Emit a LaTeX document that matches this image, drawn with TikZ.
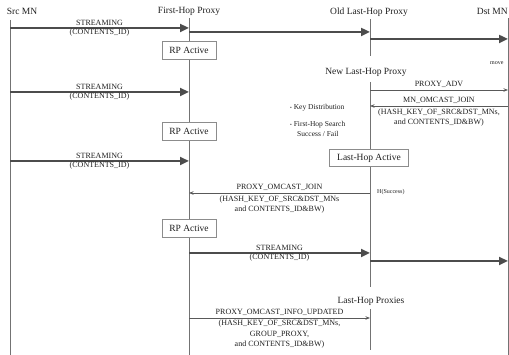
\documentclass[tikz,border=0pt]{standalone}
\usepackage{fontspec}
\setmainfont{Liberation Serif}
\usetikzlibrary{arrows.meta}
\begin{document}
\begin{tikzpicture}[x=1pt,y=-1pt,
  life/.style={draw=black!55, line width=0.9pt},
  stream/.style={draw=black!70, line width=2.6pt, -{Triangle[length=9pt,width=8pt]}},
  msg/.style={draw=black!65, line width=0.8pt, -{Stealth[length=4.5pt,width=3.5pt]}},
  title/.style={font=\fontsize{9.5}{11}\selectfont, text=black!88, inner sep=0pt},
  lbl/.style={font=\fontsize{8}{10}\selectfont, text=black!88, inner sep=0pt, align=center},
  small/.style={font=\fontsize{6}{7}\selectfont, text=black!88, inner sep=0pt, anchor=west},
  bullet/.style={font=\fontsize{7.5}{9}\selectfont, text=black!88, inner sep=0pt, anchor=west, align=left},
  state/.style={draw=black!45, fill=white, line width=0.7pt, font=\fontsize{9.5}{11}\selectfont,
                text=black!88, inner sep=0pt, minimum height=18pt}
]
\useasboundingbox (0,0) rectangle (509,355);

% lifeline headers
\node[title] (tsrc) at (22,11) {Src MN};
\node[title] (tfh)  at (189,11) {First-Hop Proxy};
\node[title] (told) at (369,12) {Old Last-Hop Proxy};
\node[title, anchor=east] (tdst) at (508,11) {Dst MN};
\node[title] (tnew) at (366,72) {New Last-Hop Proxy};
\node[title] (tlhp) at (371,301) {Last-Hop Proxies};

% lifelines
\coordinate (srcT) at (10,20);   \coordinate (srcB) at (10,355);
\coordinate (fhT)  at (189,18);  \coordinate (fhB)  at (189,355);
\coordinate (oldT) at (370,19);  \coordinate (oldB) at (370,56);
\coordinate (newT) at (370,82);  \coordinate (newB) at (370,287);
\coordinate (lhpT) at (370,309); \coordinate (lhpB) at (370,350);
\coordinate (dstT) at (508,18);  \coordinate (dstB) at (508,355);
\draw[life] (srcT) -- (srcB);
\draw[life] (fhT) -- (fhB);
\draw[life] (oldT) -- (oldB);
\draw[life] (newT) -- (newB);
\draw[life] (lhpT) -- (lhpB);
\draw[life] (dstT) -- (dstB);

% first stream before the move
\coordinate (a1) at (10,28);  \coordinate (a2) at (189,28);
\coordinate (a3) at (189,32); \coordinate (a4) at (370,32);
\coordinate (a5) at (370,39); \coordinate (a6) at (508,39);
\draw[stream] (a1) -- (a2)
  node[lbl, midway, yshift=5pt] (a1t) {STREAMING}
  node[lbl, midway, yshift=-5pt] (a1b) {(CONTENTS\_ID)};
\draw[stream] (a3) -- (a4);
\draw[stream] (a5) -- (a6);

\node[state, minimum width=54pt] (rp1) at (189,50) {RP Active};
\node[small] (mv) at (490,63) {move};

% stream while the destination moves
\coordinate (b1) at (10,92); \coordinate (b2) at (189,92);
\draw[stream] (b1) -- (b2)
  node[lbl, midway, yshift=5pt] (b1t) {STREAMING}
  node[lbl, midway, yshift=-5pt] (b1b) {(CONTENTS\_ID)};

% proxy advertisement and join
\coordinate (p1) at (370,90);  \coordinate (p2) at (508,90);
\draw[msg] (p1) -- (p2) node[lbl, midway, yshift=6pt] (p1t) {PROXY\_ADV};
\coordinate (j1) at (508,106); \coordinate (j2) at (370,106);
\draw[msg] (j1) -- (j2)
  node[lbl, midway, yshift=6pt] (j1t) {MN\_OMCAST\_JOIN}
  node[lbl, midway, anchor=north, yshift=-2.5pt] (j1b) {(HASH\_KEY\_OF\_SRC\&DST\_MNs,\\and CONTENTS\_ID\&BW)};

\node[bullet] (k1) at (290,108) {{\fontsize{5}{6}\selectfont\textbullet}\ Key Distribution};
\node[bullet] (k2) at (290,125) {{\fontsize{5}{6}\selectfont\textbullet}\ First-Hop Search};
\node[bullet] (k3) at (297,134) {Success / Fail};

\node[state, minimum width=54pt] (rp2) at (189,131) {RP Active};

\coordinate (c1) at (10,161); \coordinate (c2) at (189,161);
\draw[stream] (c1) -- (c2)
  node[lbl, midway, yshift=5pt] (c1t) {STREAMING}
  node[lbl, midway, yshift=-5pt] (c1b) {(CONTENTS\_ID)};

\node[state, minimum width=79pt, minimum height=17pt] (lha) at (369,158) {Last-Hop Active};

% join towards the first-hop proxy
\coordinate (q1) at (370,193); \coordinate (q2) at (189,193);
\draw[msg] (q1) -- (q2)
  node[lbl, midway, yshift=6pt] (q1t) {PROXY\_OMCAST\_JOIN}
  node[lbl, midway, anchor=north, yshift=-2.5pt] (q1b) {(HASH\_KEY\_OF\_SRC\&DST\_MNs\\and CONTENTS\_ID\&BW)};
\node[small] (hs) at (377,192) {H(Success)};

\node[state, minimum width=54pt] (rp3) at (189,228) {RP Active};

% stream after the handover
\coordinate (d1) at (189,253); \coordinate (d2) at (370,253);
\coordinate (d3) at (370,261); \coordinate (d4) at (508,261);
\draw[stream] (d1) -- (d2)
  node[lbl, midway, yshift=5pt] (d1t) {STREAMING}
  node[lbl, midway, yshift=-5pt] (d1b) {(CONTENTS\_ID)};
\draw[stream] (d3) -- (d4);

% update of the last-hop proxies
\coordinate (u1) at (189,318); \coordinate (u2) at (370,318);
\draw[msg] (u1) -- (u2)
  node[lbl, midway, yshift=5.5pt] (u1t) {PROXY\_OMCAST\_INFO\_UPDATED}
  node[lbl, midway, anchor=north, yshift=-2pt, font=\fontsize{8}{10.5}\selectfont] (u1b)
    {(HASH\_KEY\_OF\_SRC\&DST\_MNs,\\GROUP\_PROXY,\\and CONTENTS\_ID\&BW)};
\end{tikzpicture}
\end{document}
